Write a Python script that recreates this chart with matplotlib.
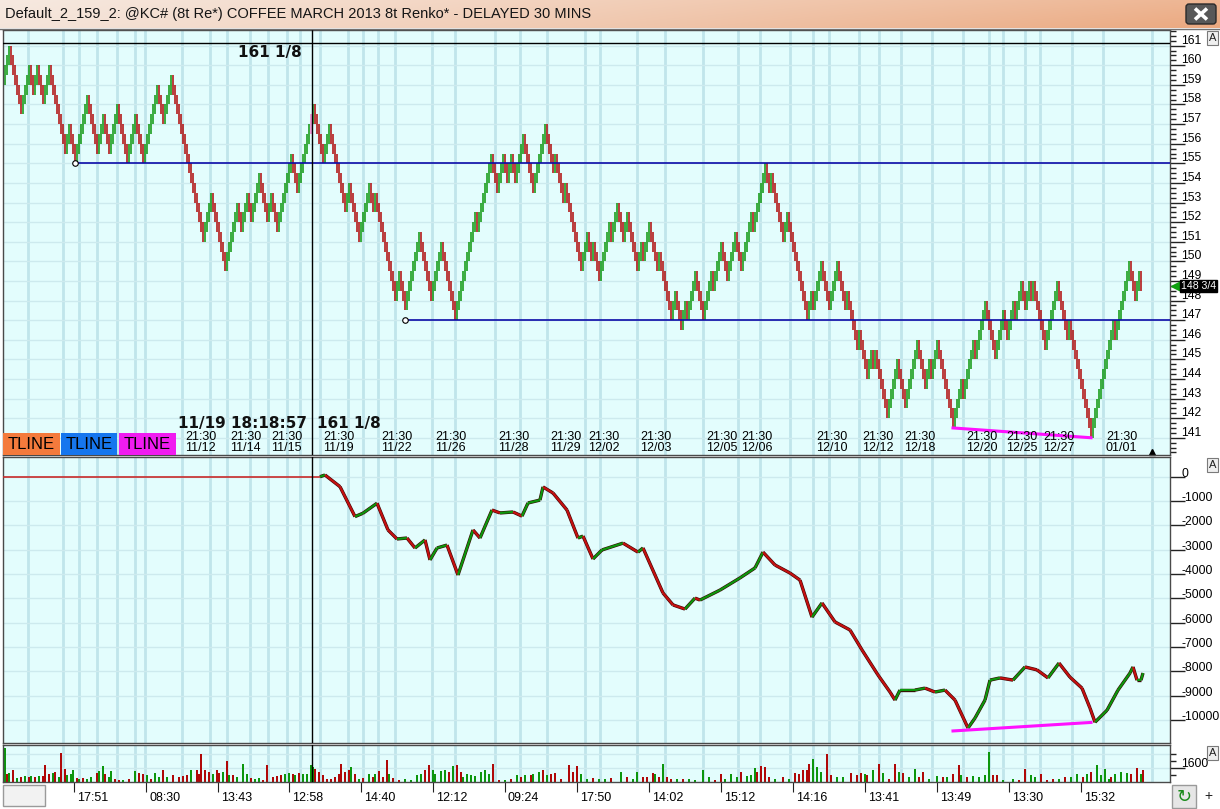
import numpy as np
import matplotlib
matplotlib.use('Agg')
import matplotlib.pyplot as plt
from matplotlib import transforms
from matplotlib.collections import LineCollection
from matplotlib.patches import Rectangle, FancyBboxPatch

plt.rcParams['font.family'] = ['Liberation Sans', 'DejaVu Sans']

TITLE = "Default_2_159_2: @KC# (8t Re*) COFFEE MARCH 2013 8t Renko* - DELAYED 30 MINS"

# renko reversal levels (brick = 0.5)
BRICK = 0.5
PRICE_PIVOTS = [
    159.5, 161.0, 157.5, 160.0, 158.5, 160.0, 158.0, 160.0, 155.5, 157.0,
    155.0, 158.5, 155.5, 157.5, 155.5, 158.0, 155.0, 157.5, 155.0, 159.0,
    157.0, 159.5, 151.0, 153.5, 149.5, 153.0, 151.5, 153.5, 152.0, 154.5,
    152.0, 153.5, 151.5, 155.5, 153.5, 158.0, 155.0, 157.0, 152.5, 154.0,
    151.0, 154.0, 152.5, 153.5, 148.0, 149.5, 147.5, 151.5, 148.0, 151.0,
    147.0, 152.5, 151.5, 155.5, 153.5, 155.5, 154.0, 155.5, 154.0, 156.5,
    153.5, 157.0, 154.5, 155.5, 153.0, 154.0, 149.5, 151.5, 150.0, 151.0,
    149.0, 152.0, 151.0, 153.0, 151.0, 152.5, 149.5, 151.0, 150.0, 152.0,
    149.5, 150.5, 147.0, 148.5, 146.5, 148.0, 147.0, 149.5, 147.0, 149.5,
    148.5, 151.0, 149.0, 151.5, 149.5, 152.5, 151.5, 155.0, 153.5, 154.5,
    151.0, 152.5, 147.0, 148.5, 147.5, 150.0, 147.5, 150.0, 147.5, 148.5,
    145.5, 146.5, 144.0, 145.5, 144.5, 145.5, 142.0, 145.0, 142.5, 146.0,
    143.5, 145.0, 144.0, 146.0, 141.5, 144.0, 143.0, 146.0, 145.0, 148.0,
    145.0, 147.5, 146.0, 148.0, 147.0, 149.0, 147.5, 149.0, 148.0, 149.0,
    145.5, 149.0, 146.0, 147.0, 141.0, 147.0, 146.0, 150.0, 148.0, 149.5,
    148.5,
]
TOP_LINE = 161.125
TOP_LABEL = "161 1/8"
CURSOR_PIVOT = 35
CURSOR_TIME = "11/19 18:18:57"
LAST_PRICE = 148.75
LAST_LABEL = "148 3/4"
BLUE_LEVELS = [155.0, 147.0]
BLUE_PIVOTS = [10, 46]
TLINE_PIVOTS = [124, 144]

# lower study (bar index, value)
IND_X = [157.5, 160, 167.5, 175, 179, 186, 191.5, 196, 201, 205, 210, 212.5, 216,
         221, 226.5, 234, 237.5, 243.5, 247.5, 254, 258.5, 261.5, 267.5, 269, 274,
         281, 286.5, 289, 294, 298.5, 309, 316.5, 319, 329, 334, 340, 345, 347.5,
         357.5, 367.5, 375, 379, 385, 392.5, 397.5, 403.5, 408.5, 415, 422.5, 428.5,
         436.5, 442.5, 445, 447.5, 455, 460, 465, 470, 475, 481.5, 485, 490, 492.5,
         497.5, 504, 510, 516, 521.5, 527, 532.5, 538.5, 542.5, 545, 551, 556.5,
         562.5, 564, 566, 568, 569]
IND_Y = [0, 70, -410, -1640, -1500, -1090, -2190, -2560, -2520, -2930, -2600, -3420,
         -2930, -2810, -4040, -2190, -2520, -1370, -1490, -1450, -1620, -1080, -960,
         -420, -670, -1370, -2520, -2440, -3380, -3010, -2730, -3100, -2930, -4780,
         -5270, -5440, -4990, -5070, -4660, -4160, -3750, -3100, -3630, -3960, -4250,
         -5770, -5190, -5970, -6300, -7120, -8150, -8850, -9180, -8770, -8770, -8690,
         -8850, -8770, -9180, -10330, -9920, -9180, -8360, -8270, -8360, -7820, -7940,
         -8270, -7660, -8240, -8690, -9510, -10090, -9600, -8770, -8070, -7820, -8360,
         -8360, -8070]
IND_TLINE = [-10450, -10100]

# volume bars (bar index, volume, g=up r=down)
VOL_X = [0, 1, 2, 4, 6, 8, 10, 12, 13, 15, 17, 19, 20, 22, 24, 25, 27, 28, 30, 31,
         33, 34, 36, 37, 39, 41, 43, 46, 47, 49, 50, 52, 53, 55, 57, 59, 62, 65, 67, 69,
         71, 73, 75, 77, 79, 81, 84, 87, 89, 91, 93, 96, 97, 98, 100, 102, 104, 106, 107, 109,
         111, 112, 114, 116, 119, 121, 123, 125, 127, 129, 131, 134, 136, 138, 140, 142, 144, 145, 147, 149,
         151, 153, 154, 155, 157, 159, 161, 163, 165, 167, 168, 170, 172, 173, 175, 177, 179, 182, 184, 185,
         187, 189, 191, 192, 194, 197, 200, 203, 206, 208, 210, 212, 214, 215, 218, 220, 222, 224, 226, 228,
         229, 231, 233, 235, 238, 240, 242, 244, 247, 250, 253, 256, 258, 260, 263, 264, 267, 269, 271, 273,
         275, 278, 282, 284, 286, 288, 291, 294, 297, 300, 303, 308, 311, 314, 316, 319, 321, 324, 325, 327,
         329, 331, 333, 336, 339, 342, 345, 349, 352, 355, 358, 360, 363, 366, 368, 371, 373, 375, 376, 378,
         380, 382, 385, 389, 392, 395, 397, 399, 401, 402, 404, 406, 408, 411, 413, 416, 419, 423, 426, 428,
         430, 431, 434, 437, 439, 442, 445, 447, 449, 452, 455, 457, 459, 462, 466, 469, 471, 474, 477, 478,
         481, 484, 487, 490, 492, 494, 496, 499, 504, 507, 510, 513, 515, 518, 521, 524, 527, 530, 533, 536,
         539, 541, 543, 546, 548, 550, 552, 553, 555, 558, 561, 563, 566, 568, 569]
VOL = [3900, 950, 1030, 1330, 490, 570, 650, 570, 680, 570, 680, 650, 1900, 950, 1030, 1140, 570, 3310, 1520, 760,
       950, 1410, 460, 380, 490, 380, 570, 1030, 1250, 1790, 950, 570, 1220, 380, 270, 270, 380, 1220, 1030, 950,
       760, 380, 1030, 570, 1410, 570, 760, 570, 650, 760, 1410, 1330, 950, 3150, 1410, 1140, 950, 1330, 1030, 1140,
       2390, 760, 760, 570, 2090, 950, 490, 380, 460, 270, 1980, 570, 650, 760, 870, 1030, 950, 840, 1030, 950,
       950, 1900, 1710, 1520, 1140, 760, 380, 380, 570, 950, 2090, 1140, 1410, 1710, 950, 380, 490, 950, 570, 870,
       1250, 570, 2550, 950, 490, 270, 380, 270, 760, 950, 1410, 1900, 1330, 950, 1250, 1330, 1140, 1790, 1980, 1140,
       570, 870, 760, 650, 1140, 1410, 950, 2090, 270, 270, 380, 760, 570, 760, 760, 950, 1140, 1330, 760, 950,
       1030, 380, 1900, 1140, 1790, 870, 380, 460, 380, 380, 460, 1140, 570, 380, 1140, 570, 570, 1030, 950, 570,
       2010, 570, 380, 380, 300, 340, 270, 1330, 570, 270, 950, 380, 870, 570, 1140, 650, 760, 1630, 1140, 1790,
       1710, 570, 380, 570, 380, 1030, 950, 1330, 1410, 2090, 2660, 1710, 1140, 3230, 760, 570, 570, 1030, 760, 1030,
       950, 760, 1330, 2090, 1030, 380, 2010, 1140, 1030, 570, 1520, 570, 1140, 380, 650, 570, 570, 950, 1900, 760,
       570, 650, 570, 760, 3420, 760, 760, 270, 380, 270, 1520, 760, 570, 950, 270, 380, 380, 570, 570, 950,
       570, 950, 1140, 1900, 760, 1520, 380, 570, 950, 1140, 1030, 950, 1630, 950, 1410]
VOL_DIR = ("grgrgrgrgr" "grrrgrgrrg" "ggrgrggrgg" "rggrrgrgrr" "grggrgrrrr"
           "grrrrrgrrg" "rgrgggrggr" "rrrrggrgrg" "gggrrrrrrr" "rrrgrgrgrg"
           "rrrgrrgggg" "rrggggrgrr" "gggggggrrg" "rgrgrggrgr" "rrrrrggrgg"
           "rgrggrrrgr" "grrgrggggr" "rgggrgggrr" "rrgrgrrrrr" "gggrrggrrr"
           "grgrgrrgrg" "grrggrgrrg" "rggggrrggr" "rggrrrgrgg" "rgrggggrgg"
           "grrgr")

# time axis
GRID_X = [11.5, 29, 37, 46, 56, 65, 70, 88.5, 102.5, 111, 122.5, 131.5, 141, 147.5,
          157.5, 171.5, 179, 186.5, 195, 213.5, 225, 245, 257.5, 271, 290, 297.5, 316,
          330, 349, 366.5, 377.5, 392.5, 404, 412, 427, 437, 448, 463.5, 479, 492, 499,
          510, 517.5, 533.5, 549, 573.5]
DATE_X = [88.5, 111, 131.5, 157.5, 186.5, 213.5, 245, 271, 290, 316, 349, 366.5,
          404, 427, 448, 479, 499, 517.5, 549]
DATE_LABELS = ["11/12", "11/14", "11/15", "11/19", "11/22", "11/26", "11/28", "11/29",
               "12/02", "12/03", "12/05", "12/06", "12/10", "12/12", "12/18", "12/20",
               "12/25", "12/27", "01/01"]
SESSION_TIME = "21:30"
TIME_X = [34.5, 70.5, 106.5, 142, 178, 214, 250, 286, 322, 358, 394, 430, 466, 502, 538]
TIME_LABELS = ["17:51", "08:30", "13:43", "12:58", "14:40", "12:12", "09:24", "17:50",
               "14:02", "15:12", "14:16", "13:41", "13:49", "13:30", "15:32"]

PRICE_TICKS = list(range(141, 162))
IND_TICKS = list(range(0, -10001, -1000))
VOL_TICKS = [1600]

UP = '#0c960c'
DN = '#b00808'
BG = '#e3fdfd'
GRID = '#c0e5eb'
HGRID = '#cdeaee'
XMAX = 582.5

# build renko bars from the reversal levels
closes, ups, pivot_bar = [], [], [0]
level = PRICE_PIVOTS[0]
for k, target in enumerate(PRICE_PIVOTS[1:]):
    up = target > level
    n = int(round(abs(target - level) / BRICK))
    steps = [1] * n if k == 0 else [2] + [1] * (max(n, 2) - 2)
    for s in steps:
        level += s * BRICK if up else -s * BRICK
        closes.append(level)
        ups.append(up)
    pivot_bar.append(len(closes) - 1)
closes = np.array(closes)
ups = np.array(ups)
bx = np.arange(len(closes))
lo = np.where(ups, closes - 2 * BRICK, closes)
hi = np.where(ups, closes, closes + 2 * BRICK)
bar_cols = [UP if u else DN for u in ups]
cursor_x = pivot_bar[CURSOR_PIVOT] - 0.5
bar_cols[pivot_bar[CURSOR_PIVOT] - 1] = '#f07cc8'

W, H = 1220, 809
fig = plt.figure(figsize=(W / 100, H / 100), dpi=100)


def frac(x0, y0, x1, y1):
    return [x0 / W, 1 - y1 / H, (x1 - x0) / W, (y1 - y0) / H]


ax_p = fig.add_axes(frac(3, 30, 1170, 455))
ax_i = fig.add_axes(frac(3, 457, 1170, 743))
ax_v = fig.add_axes(frac(3, 745, 1170, 782))

for ax in (ax_p, ax_i, ax_v):
    ax.set_facecolor(BG)
    ax.set_xlim(-1, XMAX)
    for s in ax.spines.values():
        s.set_color('#4a4a4a')
        s.set_linewidth(1)
    ax.tick_params(axis='x', which='both', bottom=False, top=False, labelbottom=False)
    ax.tick_params(axis='y', which='both', left=False, labelleft=False, right=True,
                   labelright=False, direction='out', color='#222222', width=1)
    ax.tick_params(axis='y', which='major', length=11)
    ax.tick_params(axis='y', which='minor', length=4)
    ax.vlines(GRID_X, 0, 1, transform=ax.get_xaxis_transform(), color=GRID, lw=2, zorder=0.5)
    ax.axvline(cursor_x, color='black', lw=1, zorder=6)


def right_labels(ax, values, dy, fmt=str):
    tr = transforms.blended_transform_factory(ax.transAxes, ax.transData)
    tr = transforms.offset_copy(tr, fig=fig, x=11, y=dy, units='dots')
    for v in values:
        ax.text(1, v, fmt(v), transform=tr, ha='left', va='center', fontsize=8.7,
                color='black', clip_on=False)


# price panel
ax_p.set_ylim(140.12, 161.80)
ax_p.set_yticks(PRICE_TICKS)
ax_p.yaxis.set_minor_locator(matplotlib.ticker.MultipleLocator(0.25))
ax_p.hlines(PRICE_TICKS, -1, XMAX, color=HGRID, lw=1, zorder=0.6)
ax_p.vlines(bx, lo, hi, colors=bar_cols, lw=1.1, zorder=2)
ax_p.axhline(TOP_LINE, color='black', lw=1, zorder=3)
for lvl, pv in zip(BLUE_LEVELS, BLUE_PIVOTS):
    x0 = pivot_bar[pv]
    ax_p.hlines(lvl, x0, XMAX, color='#0b0ba8', lw=1.2, zorder=3)
    ax_p.plot(x0, lvl, 'o', mfc='white', mec='black', ms=4, mew=0.8, zorder=5)
tx = [pivot_bar[p] for p in TLINE_PIVOTS]
ax_p.plot(tx, [PRICE_PIVOTS[p] for p in TLINE_PIVOTS], color='#ff10ff', lw=2.2, zorder=4)
right_labels(ax_p, PRICE_TICKS, 5)

bold = dict(fontsize=11, fontweight='bold', family='DejaVu Sans', color='#111111')
ax_p.text(cursor_x, TOP_LINE, TOP_LABEL, ha='right', va='top',
          transform=transforms.offset_copy(ax_p.transData, fig=fig, x=-10, y=-2, units='dots'), **bold)
xb = transforms.blended_transform_factory(ax_p.transData, ax_p.transAxes)
ax_p.text(cursor_x, 0.073, CURSOR_TIME, ha='right', va='center',
          transform=transforms.offset_copy(xb, fig=fig, x=-5, y=0, units='dots'), **bold)
ax_p.text(cursor_x, 0.073, TOP_LABEL, ha='left', va='center',
          transform=transforms.offset_copy(xb, fig=fig, x=5, y=0, units='dots'), **bold)
dtr = transforms.offset_copy(xb, fig=fig, x=3, y=1, units='dots')
for x, d in zip(DATE_X, DATE_LABELS):
    ax_p.text(x, 0, SESSION_TIME + "\n" + d, transform=dtr, ha='left', va='bottom',
              fontsize=9, linespacing=0.88, color='black', zorder=7)

ytr = transforms.blended_transform_factory(ax_p.transAxes, ax_p.transData)
ax_p.plot([1], [LAST_PRICE], marker='<', color='#10a010', ms=7, clip_on=False, zorder=9,
          transform=transforms.offset_copy(ytr, fig=fig, x=6, y=0, units='dots'))
ax_p.text(1, LAST_PRICE, LAST_LABEL, color='white', fontsize=7.6, ha='left', va='center',
          clip_on=False, zorder=10,
          transform=transforms.offset_copy(ytr, fig=fig, x=11, y=0, units='dots'),
          bbox=dict(boxstyle='square,pad=0.12', fc='black', ec='black'))
ax_p.plot([0.985], [0.006], marker='^', color='black', ms=4, transform=ax_p.transAxes, clip_on=False)

# study panel
ax_i.set_ylim(-10945, 810)
ax_i.set_yticks(IND_TICKS)
ax_i.hlines(IND_TICKS, -1, XMAX, color=HGRID, lw=1, zorder=0.6)
ax_i.hlines(IND_Y[0], -1, IND_X[0], color='#c82a2a', lw=1.2, zorder=3)
xs = np.array(IND_X, dtype=float)
ys = np.array(IND_Y, dtype=float)
segs = np.stack([np.column_stack([xs[:-1], ys[:-1]]), np.column_stack([xs[1:], ys[1:]])], axis=1)
seg_cols = [UP if b >= a else '#c41010' for a, b in zip(ys[:-1], ys[1:])]
ax_i.add_collection(LineCollection(segs, colors='#3a0505', linewidths=2.4, zorder=3))
ax_i.add_collection(LineCollection(segs, colors=seg_cols, linewidths=1.6, zorder=4))
ax_i.plot(tx, IND_TLINE, color='#ff10ff', lw=2.2, zorder=5)
right_labels(ax_i, IND_TICKS, 3)

# volume panel
ax_v.set_ylim(0, 4230)
ax_v.set_yticks(VOL_TICKS)
ax_v.set_yticks([800, 2400, 3200], minor=True)
ax_v.hlines([1600, 3200], -1, XMAX, color=HGRID, lw=1, zorder=0.6)
ax_v.bar(VOL_X, VOL, width=1.2, color=[UP if d == 'g' else DN for d in VOL_DIR], zorder=2)
right_labels(ax_v, VOL_TICKS, 4)
ax_v.set_xticks(TIME_X)
ax_v.tick_params(axis='x', which='major', bottom=True, length=7, direction='out', color='#222222')
ttr = transforms.offset_copy(ax_v.get_xaxis_transform(), fig=fig, x=3, y=-16, units='dots')
for x, t in zip(TIME_X, TIME_LABELS):
    ax_v.text(x, 0, t, transform=ttr, ha='left', va='center', fontsize=9, clip_on=False)

# window chrome
ax_o = fig.add_axes([0, 0, 1, 1])
ax_o.axis('off')
t = np.linspace(0, 1, 300)[None, :, None]
v = np.linspace(0, 1, 28)[:, None, None]
c0 = np.array([0.96, 0.90, 0.86])
c1 = np.array([0.92, 0.66, 0.50])
grad = c0 * (1 - t) + c1 * t
grad = grad * (0.85 + 0.15 * v) + (1 - v) * 0.15
ax_o.imshow(np.clip(grad, 0, 1), extent=(0, W, 28, 0), aspect='auto', zorder=0)
ax_o.set_xlim(0, W)
ax_o.set_ylim(H, 0)
ax_o.text(5, 14, TITLE, ha='left', va='center', fontsize=10.5, color='#151515')
ax_o.plot([0, W], [28.5, 28.5], color='#707070', lw=1)
ax_o.add_patch(FancyBboxPatch((1186, 4), 30, 20, boxstyle='round,pad=0,rounding_size=3',
                              fc='#585858', ec='#2a2a2a', lw=1))
ax_o.plot([1195, 1207], [8.5, 19.5], color='white', lw=2.6, solid_capstyle='butt')
ax_o.plot([1195, 1207], [19.5, 8.5], color='white', lw=2.6, solid_capstyle='butt')

for x0, w, col in [(3, 57, '#f47a3c'), (61, 56, '#1676ee'), (119, 57, '#f01cf0')]:
    ax_o.add_patch(Rectangle((x0, 433), w, 22, fc=col, ec='none', zorder=5))
    ax_o.text(x0 + w / 2, 444.5, "TLINE", ha='center', va='center', fontsize=12,
              color='black', zorder=6)

for y0 in (31, 458, 746):
    ax_o.add_patch(Rectangle((1207, y0), 11, 14, fc='#efefef', ec='#7a7a7a', lw=0.8))
    ax_o.text(1212.5, y0 + 7, "A", ha='center', va='center', fontsize=8, color='#202020')

ax_o.add_patch(Rectangle((3, 785), 42, 21, fc='#f2f2f2', ec='#9a9a9a', lw=1))
ax_o.add_patch(Rectangle((1172, 785), 24, 23, fc='#e6e6e6', ec='#9a9a9a', lw=1))
ax_o.text(1184, 797, "\u21bb", ha='center', va='center', fontsize=13, color='#1a8a1a',
          family=['DejaVu Sans'])
ax_o.text(1208, 796, "+", ha='center', va='center', fontsize=10, color='#202020')

fig.savefig('out.png', dpi=100)
